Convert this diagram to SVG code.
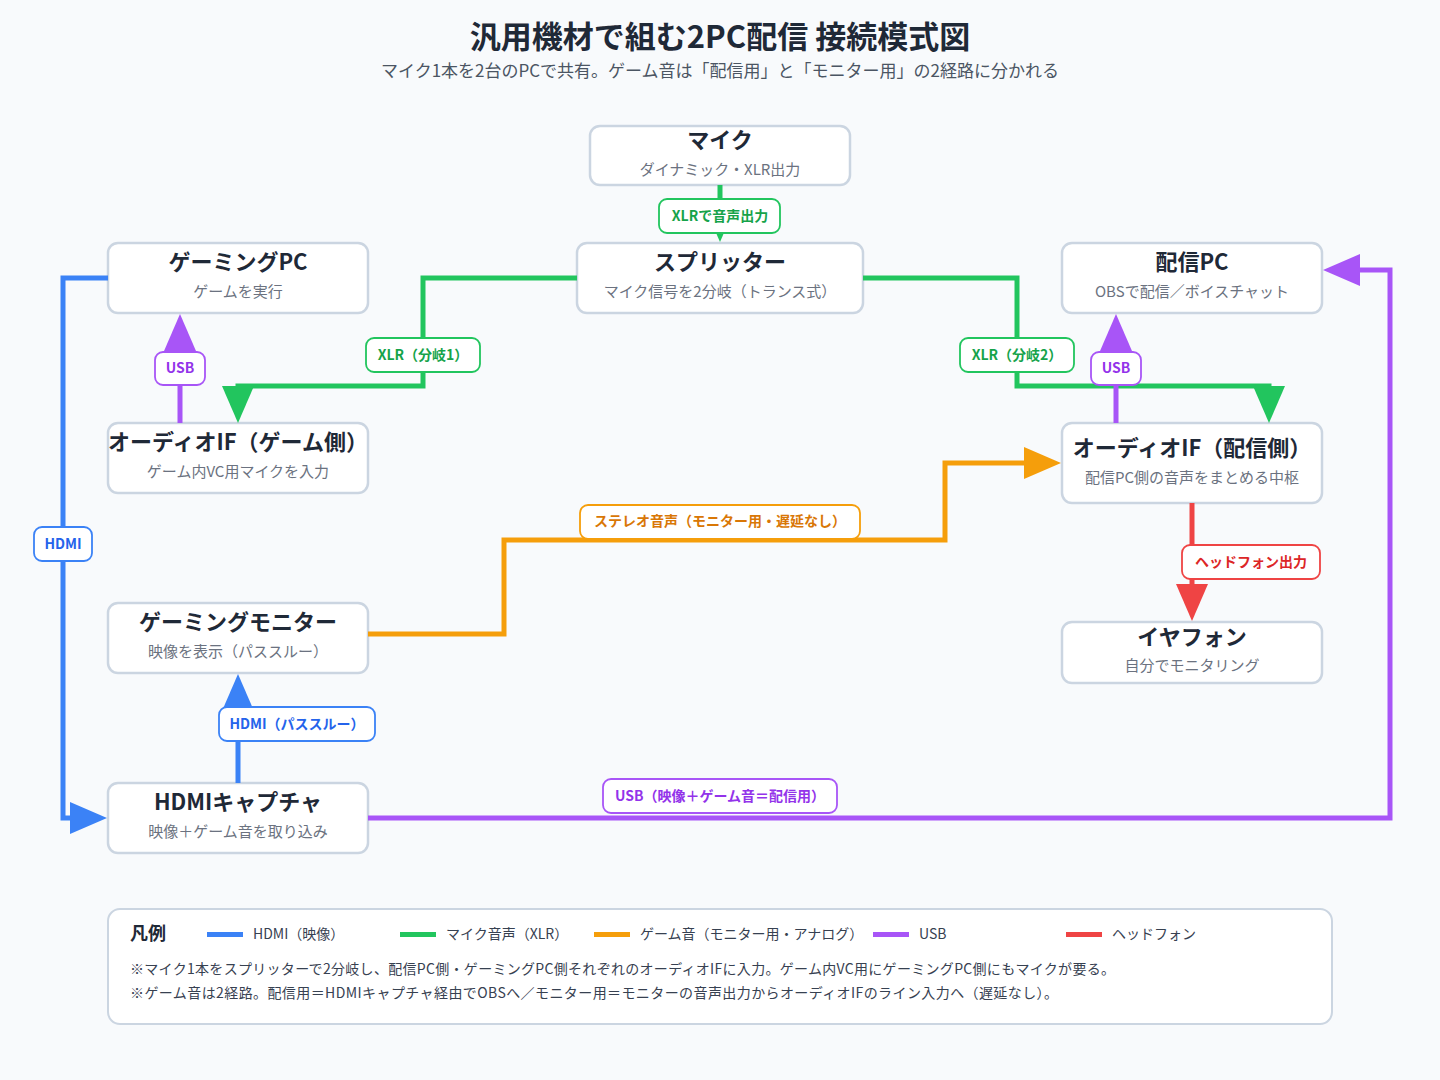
<svg xmlns="http://www.w3.org/2000/svg" width="1440" height="1080" viewBox="0 0 1440 1080">
<style>
text{font-family:"Noto Sans CJK JP","Noto Sans",sans-serif;text-anchor:middle;dominant-baseline:central}
.title{font-size:31px;font-weight:700;fill:#1f2937}
.subtitle{font-size:17px;fill:#4b5563}
.node rect{fill:#ffffff;stroke:#cbd5e1;stroke-width:2.5}
.nt{font-size:22px;font-weight:700;fill:#1f2937}
.ns{font-size:15px;fill:#6b7280}
.c{fill:none;stroke-width:5;stroke-linejoin:miter}
.g{stroke:#22c55e}.b{stroke:#3b82f6}.o{stroke:#f59e0b}.p{stroke:#a855f7}.r{stroke:#ef4444}
.lb rect{fill:#ffffff;stroke-width:1.8}
.lb text{font-size:14px;font-weight:700}
.lg text{font-size:14px;fill:#374151;text-anchor:start}
.note{font-size:14.5px;fill:#6b7280;text-anchor:start}
</style>
<defs>
<marker id="ag" markerUnits="userSpaceOnUse" markerWidth="38" markerHeight="32" viewBox="0 0 38 32" refX="1" refY="16" orient="auto"><path d="M0,0 L37,16 L0,32 z" fill="#22c55e"/></marker>
<marker id="ab" markerUnits="userSpaceOnUse" markerWidth="38" markerHeight="32" viewBox="0 0 38 32" refX="1" refY="16" orient="auto"><path d="M0,0 L37,16 L0,32 z" fill="#3b82f6"/></marker>
<marker id="ao" markerUnits="userSpaceOnUse" markerWidth="38" markerHeight="32" viewBox="0 0 38 32" refX="1" refY="16" orient="auto"><path d="M0,0 L37,16 L0,32 z" fill="#f59e0b"/></marker>
<marker id="ap" markerUnits="userSpaceOnUse" markerWidth="38" markerHeight="32" viewBox="0 0 38 32" refX="1" refY="16" orient="auto"><path d="M0,0 L37,16 L0,32 z" fill="#a855f7"/></marker>
<marker id="ar" markerUnits="userSpaceOnUse" markerWidth="38" markerHeight="32" viewBox="0 0 38 32" refX="1" refY="16" orient="auto"><path d="M0,0 L37,16 L0,32 z" fill="#ef4444"/></marker>
</defs>
<rect width="1440" height="1080" fill="#f8fafc"/>
<text class="title" x="720" y="34">汎用機材で組む2PC配信 接続模式図</text>
<text class="subtitle" x="720" y="69.5">マイク1本を2台のPCで共有。ゲーム音は「配信用」と「モニター用」の2経路に分かれる</text>

<g id="nodes">
<g id="mic" class="node"><rect x="590" y="126" width="260" height="59" rx="10"/><text class="nt" x="720" y="138">マイク</text><text class="ns" x="720" y="168.5">ダイナミック・XLR出力</text></g>
<g id="splitter" class="node"><rect x="577" y="243" width="286" height="70" rx="10"/><text class="nt" x="720" y="260">スプリッター</text><text class="ns" x="720" y="290.5">マイク信号を2分岐（トランス式）</text></g>
<g id="gamingpc" class="node"><rect x="108" y="243" width="260" height="70" rx="10"/><text class="nt" x="238" y="260">ゲーミングPC</text><text class="ns" x="238" y="290.5">ゲームを実行</text></g>
<g id="streampc" class="node"><rect x="1062" y="243" width="260" height="70" rx="10"/><text class="nt" x="1192" y="260">配信PC</text><text class="ns" x="1192" y="290.5">OBSで配信／ボイスチャット</text></g>
<g id="gameif" class="node"><rect x="108" y="423" width="260" height="70" rx="10"/><text class="nt" x="238" y="440">オーディオIF（ゲーム側）</text><text class="ns" x="238" y="470.5">ゲーム内VC用マイクを入力</text></g>
<g id="streamif" class="node"><rect x="1062" y="423" width="260" height="80" rx="10"/><text class="nt" x="1192" y="446">オーディオIF（配信側）</text><text class="ns" x="1192" y="476.5">配信PC側の音声をまとめる中枢</text></g>
<g id="earphone" class="node"><rect x="1062" y="622" width="260" height="61" rx="10"/><text class="nt" x="1192" y="635">イヤフォン</text><text class="ns" x="1192" y="664.5">自分でモニタリング</text></g>
<g id="monitor" class="node"><rect x="108" y="603" width="260" height="70" rx="10"/><text class="nt" x="238" y="620">ゲーミングモニター</text><text class="ns" x="238" y="650.5">映像を表示（パススルー）</text></g>
<g id="capture" class="node"><rect x="108" y="783" width="260" height="70" rx="10"/><text class="nt" x="238" y="800">HDMIキャプチャ</text><text class="ns" x="238" y="830.5">映像＋ゲーム音を取り込み</text></g>
</g>

<g id="connectors">
<path class="c g" d="M720,185 V206" marker-end="url(#ag)"/>
<path class="c g" d="M577,278 H423 V386 H238 V387" marker-end="url(#ag)"/>
<path class="c g" d="M863,278 H1017 V386 H1269 V387" marker-end="url(#ag)"/>
<path class="c p" d="M180,423 V350" marker-end="url(#ap)"/>
<path class="c p" d="M1116,423 V350" marker-end="url(#ap)"/>
<path class="c b" d="M108,278 H63 V818 H71" marker-end="url(#ab)"/>
<path class="c b" d="M238,783 V710" marker-end="url(#ab)"/>
<path class="c o" d="M368,634 H504 V540 H945 V463 H1025" marker-end="url(#ao)"/>
<path class="c r" d="M1192,503 V585" marker-end="url(#ar)"/>
<path class="c p" d="M368,818 H1390 V270 H1359" marker-end="url(#ap)"/>
</g>

<g id="labels">
<g class="lb"><rect x="659" y="199" width="121" height="34" rx="8" stroke="#22c55e"/><text x="720" y="215" fill="#16a34a">XLRで音声出力</text></g>
<g class="lb"><rect x="366" y="338" width="114" height="34" rx="8" stroke="#22c55e"/><text x="423" y="354" fill="#16a34a">XLR（分岐1）</text></g>
<g class="lb"><rect x="960" y="338" width="114" height="34" rx="8" stroke="#22c55e"/><text x="1017" y="354" fill="#16a34a">XLR（分岐2）</text></g>
<g class="lb"><rect x="155" y="352" width="50" height="33" rx="8" stroke="#a855f7"/><text x="180" y="367" fill="#9333ea">USB</text></g>
<g class="lb"><rect x="1091" y="352" width="50" height="33" rx="8" stroke="#a855f7"/><text x="1116" y="367" fill="#9333ea">USB</text></g>
<g class="lb"><rect x="34" y="527" width="58" height="34" rx="8" stroke="#3b82f6"/><text x="63" y="543" fill="#2563eb">HDMI</text></g>
<g class="lb"><rect x="219" y="707" width="156" height="34" rx="8" stroke="#3b82f6"/><text x="297" y="723" fill="#2563eb">HDMI（パススルー）</text></g>
<g class="lb"><rect x="580" y="505" width="280" height="34" rx="8" stroke="#f59e0b"/><text x="720" y="520" fill="#d97706">ステレオ音声（モニター用・遅延なし）</text></g>
<g class="lb"><rect x="1182" y="545" width="138" height="34" rx="8" stroke="#ef4444"/><text x="1251" y="561" fill="#dc2626">ヘッドフォン出力</text></g>
<g class="lb"><rect x="603" y="779" width="234" height="34" rx="8" stroke="#a855f7"/><text x="720" y="795" fill="#9333ea">USB（映像＋ゲーム音＝配信用）</text></g>
</g>

<g id="legend" class="lg">
<rect x="108" y="909" width="1224" height="115" rx="12" fill="#ffffff" stroke="#cbd5e1" stroke-width="2"/>
<text x="130" y="931.5" style="font-size:18px;font-weight:700;fill:#1f2937">凡例</text>
<rect x="207" y="932" width="36" height="5" fill="#3b82f6"/><text x="253" y="933">HDMI（映像）</text>
<rect x="400" y="932" width="36" height="5" fill="#22c55e"/><text x="446" y="933">マイク音声（XLR）</text>
<rect x="594" y="932" width="36" height="5" fill="#f59e0b"/><text x="640" y="933">ゲーム音（モニター用・アナログ）</text>
<rect x="873" y="932" width="36" height="5" fill="#a855f7"/><text x="919" y="933">USB</text>
<rect x="1066" y="932" width="36" height="5" fill="#ef4444"/><text x="1112" y="933">ヘッドフォン</text>
<text class="note" x="130" y="967.5" textLength="985" lengthAdjust="spacing">※マイク1本をスプリッターで2分岐し、配信PC側・ゲーミングPC側それぞれのオーディオIFに入力。ゲーム内VC用にゲーミングPC側にもマイクが要る。</text>
<text class="note" x="130" y="991.5" textLength="928" lengthAdjust="spacing">※ゲーム音は2経路。配信用＝HDMIキャプチャ経由でOBSへ／モニター用＝モニターの音声出力からオーディオIFのライン入力へ（遅延なし）。</text>
</g>
</svg>
